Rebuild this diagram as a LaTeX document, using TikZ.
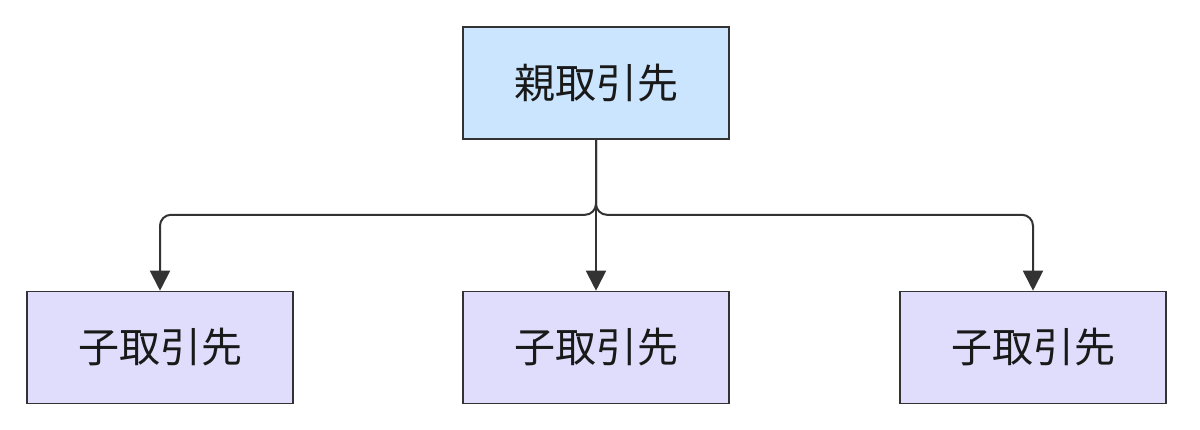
\documentclass[tikz,border=0pt]{standalone}
\usepackage{fontspec}
\newfontfamily\cjk{Noto Sans CJK JP}
\usetikzlibrary{arrows.meta}
\definecolor{parentfill}{HTML}{CCE5FF}
\definecolor{childfill}{HTML}{E0DDFC}
\definecolor{edge}{HTML}{333333}
\tikzset{
  box/.style={draw=edge, line width=1.6pt, minimum width=266pt, minimum height=112pt, inner sep=0pt, font=\cjk\fontsize{41}{48}\selectfont, text=black!90},
  parentbox/.style={box, fill=parentfill},
  childbox/.style={box, fill=childfill},
  arr/.style={draw=edge, line width=2pt, rounded corners=11pt, -{Triangle[length=20pt,width=20pt]}}
}
\begin{document}
\begin{tikzpicture}[x=1pt,y=-1pt]
\useasboundingbox (0,0) rectangle (1200,429);
\node[parentbox] (p) at (596,83) {親取引先};
\node[childbox] (c1) at (160,347.5) {子取引先};
\node[childbox] (c2) at (596,347.5) {子取引先};
\node[childbox] (c3) at (1033,347.5) {子取引先};
\draw[arr] (p.south) -- ++(0,75) -| (c1.north);
\draw[arr] (p.south) -- (c2.north);
\draw[arr] (p.south) -- ++(0,75) -| (c3.north);
\end{tikzpicture}
\end{document}
